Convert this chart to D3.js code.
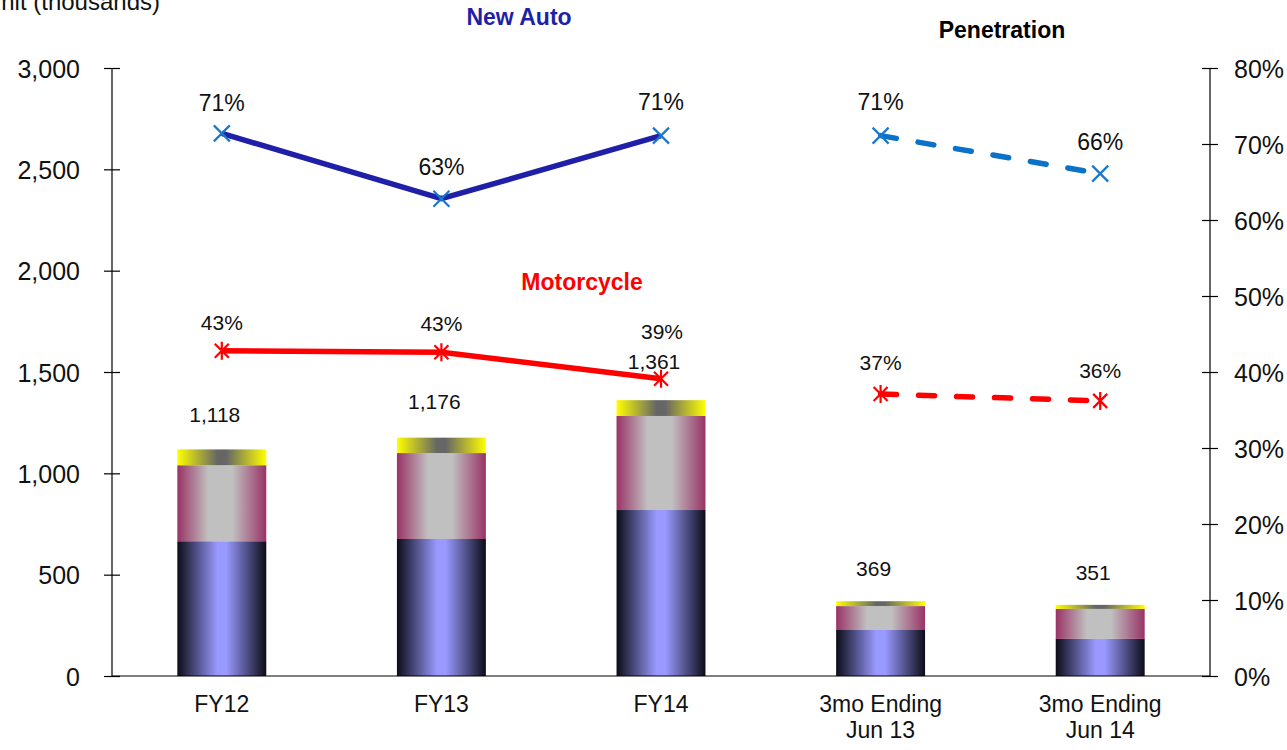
<!DOCTYPE html>
<html>
<head>
<meta charset="utf-8">
<script src="https://cdn.jsdelivr.net/npm/d3@7/dist/d3.min.js"></script>
<style>
  html, body { margin: 0; padding: 0; background: #fff; }
  svg { display: block; font-family: "Liberation Sans", Arial, sans-serif; }
</style>
</head>
<body>
<svg id="chart" width="1287" height="750"></svg>
<script>
// Categories (two-line labels are split on "\n")
const categories = ["FY12", "FY13", "FY14", "3mo Ending\nJun 13", "3mo Ending\nJun 14"];

// Stacked unit volumes (thousands)
const segBlue   = [665, 676, 819, 227, 183];
const segPink   = [375, 424, 464, 118, 148];
const segYellow = [78, 76, 78, 24, 20];
const totals    = [1118, 1176, 1361, 369, 351];

// Penetration rates (%)
const newAutoPen    = [71.4, 62.8, 71.1, 71.1, 66.1];
const motorcyclePen = [42.8, 42.6, 39.1, 37.1, 36.2];

// Axis ticks
const leftTicks  = [0, 500, 1000, 1500, 2000, 2500, 3000];
const rightTicks = [0, 10, 20, 30, 40, 50, 60, 70, 80];

const svg = d3.select("#chart");
const x0 = 112, x1 = 1210, yTop = 68, yBot = 676;

const x = d3.scaleBand().domain(categories).range([x0, x1]).padding(0);
const yL = d3.scaleLinear().domain([0, 3000]).range([yBot, yTop]);
const yR = d3.scaleLinear().domain([0, 80]).range([yBot, yTop]);
const cx = c => x(c) + x.bandwidth() / 2;
const barW = x.bandwidth() * 0.405;

// Horizontal "center" gradients for the bar segments
const defs = svg.append("defs");
function grad(id, edge, mid, a, b) {
  const g = defs.append("linearGradient").attr("id", id)
    .attr("x1", "0%").attr("x2", "100%").attr("y1", "0%").attr("y2", "0%");
  g.append("stop").attr("offset", "0%").attr("stop-color", edge);
  g.append("stop").attr("offset", a).attr("stop-color", mid);
  g.append("stop").attr("offset", b).attr("stop-color", mid);
  g.append("stop").attr("offset", "100%").attr("stop-color", edge);
}
grad("gBlue", "#0c0c18", "#9999ff", "45%", "55%");
grad("gPink", "#993366", "#c0c0c0", "35%", "62%");
grad("gYellow", "#ffff00", "#666666", "45%", "55%");

// Stacked bars
const stackData = categories.map((c, i) => ({ cat: c, blue: segBlue[i], pink: segPink[i], yellow: segYellow[i] }));
const series = d3.stack().keys(["blue", "pink", "yellow"])(stackData);
const fills = { blue: "url(#gBlue)", pink: "url(#gPink)", yellow: "url(#gYellow)" };

svg.append("g").selectAll("g").data(series).join("g")
  .attr("fill", d => fills[d.key])
  .selectAll("rect").data(d => d).join("rect")
  .attr("x", d => cx(d.data.cat) - barW / 2)
  .attr("width", barW)
  .attr("y", d => yL(d[1]))
  .attr("height", d => yL(d[0]) - yL(d[1]));

// Bar total labels
const totalOffset = [-27, -29, -31, -25, -25];
svg.append("g").selectAll("text").data(categories).join("text")
  .attr("x", c => cx(c) - 7)
  .attr("y", (c, i) => yL(totals[i]) + totalOffset[i])
  .attr("text-anchor", "middle")
  .attr("font-size", 21)
  .attr("fill", "#111")
  .text((c, i) => d3.format(",")(totals[i]));

// Axes
const axisG = svg.append("g").attr("stroke", "#000").attr("stroke-width", 1.2);
axisG.append("line").attr("x1", x0).attr("x2", x0).attr("y1", yTop).attr("y2", yBot);
axisG.append("line").attr("x1", x1).attr("x2", x1).attr("y1", yTop).attr("y2", yBot);
axisG.append("line").attr("x1", x0).attr("x2", x1).attr("y1", yBot).attr("y2", yBot);

const left = svg.append("g").attr("transform", `translate(${x0},0)`)
  .call(d3.axisLeft(yL).tickValues(leftTicks).tickSize(8).tickPadding(24).tickFormat(d3.format(",")));
left.select(".domain").remove();
left.selectAll(".tick line").attr("x1", -8).attr("x2", 8).attr("stroke", "#000").attr("stroke-width", 1.2);
left.selectAll(".tick text").attr("font-size", 25).attr("fill", "#111")
  .attr("font-family", "'Liberation Sans', Arial, sans-serif").attr("dy", "0.36em");

const right = svg.append("g").attr("transform", `translate(${x1},0)`)
  .call(d3.axisRight(yR).tickValues(rightTicks).tickSize(8).tickPadding(16).tickFormat(d => d + "%"));
right.select(".domain").remove();
right.selectAll(".tick line").attr("x1", -8).attr("x2", 8).attr("stroke", "#000").attr("stroke-width", 1.2);
right.selectAll(".tick text").attr("font-size", 25).attr("fill", "#111")
  .attr("font-family", "'Liberation Sans', Arial, sans-serif").attr("dy", "0.36em");

// Category labels
const catG = svg.append("g").selectAll("text").data(categories).join("text")
  .attr("x", c => cx(c))
  .attr("y", 712)
  .attr("text-anchor", "middle")
  .attr("font-size", 23)
  .attr("fill", "#111");
catG.selectAll("tspan").data(c => c.split("\n").map(t => ({ t, c }))).join("tspan")
  .attr("x", d => cx(d.c))
  .attr("dy", (d, i) => i === 0 ? 0 : 26)
  .text(d => d.t);

// Penetration lines: solid for fiscal years, dashed for the quarterly comparison
const line = d3.line().x(d => cx(d.cat)).y(d => yR(d.v));
const auto = categories.map((c, i) => ({ cat: c, v: newAutoPen[i] }));
const moto = categories.map((c, i) => ({ cat: c, v: motorcyclePen[i] }));

svg.append("path").datum(auto.slice(0, 3)).attr("d", line)
  .attr("fill", "none").attr("stroke", "#1f1fa8").attr("stroke-width", 5.5).attr("stroke-linejoin", "round");
svg.append("path").datum(auto.slice(3)).attr("d", line)
  .attr("fill", "none").attr("stroke", "#0a72c8").attr("stroke-width", 5.5)
  .attr("stroke-linecap", "round").attr("stroke-dasharray", "16,22");
svg.append("path").datum(moto.slice(0, 3)).attr("d", line)
  .attr("fill", "none").attr("stroke", "#ff0000").attr("stroke-width", 5.5).attr("stroke-linejoin", "round");
svg.append("path").datum(moto.slice(3)).attr("d", line)
  .attr("fill", "none").attr("stroke", "#ff0000").attr("stroke-width", 5.5)
  .attr("stroke-linecap", "round").attr("stroke-dasharray", "16,22");

// Markers
const s = 8;
svg.append("g").selectAll("path").data(auto).join("path")
  .attr("d", d => { const px = cx(d.cat), py = yR(d.v);
    return `M${px - s},${py - s}L${px + s},${py + s}M${px - s},${py + s}L${px + s},${py - s}`; })
  .attr("stroke", "#1a78cc").attr("stroke-width", 2.2).attr("fill", "none");
svg.append("g").selectAll("path").data(moto).join("path")
  .attr("d", d => { const px = cx(d.cat), py = yR(d.v), a = 7;
    return `M${px - a},${py - a}L${px + a},${py + a}M${px - a},${py + a}L${px + a},${py - a}M${px},${py - 9}L${px},${py + 9}`; })
  .attr("stroke", "#ff0000").attr("stroke-width", 2.2).attr("fill", "none");

// Penetration labels
const autoOff = [-22, -24, -26, -26, -24];
svg.append("g").selectAll("text").data(auto).join("text")
  .attr("x", d => cx(d.cat)).attr("y", (d, i) => yR(d.v) + autoOff[i])
  .attr("text-anchor", "middle").attr("font-size", 23).attr("fill", "#111")
  .text(d => Math.round(d.v) + "%");
const motoOff = [-21, -21, -40, -24, -23];
svg.append("g").selectAll("text").data(moto).join("text")
  .attr("x", (d, i) => cx(d.cat) + (i === 2 ? 1 : 0)).attr("y", (d, i) => yR(d.v) + motoOff[i])
  .attr("text-anchor", "middle").attr("font-size", 21).attr("fill", "#111")
  .text(d => Math.round(d.v) + "%");

// Titles
svg.append("text").attr("x", 160).attr("y", 10).attr("text-anchor", "end")
  .attr("font-size", 24).attr("fill", "#111").text("Unit (thousands)");
svg.append("text").attr("x", 519).attr("y", 25).attr("text-anchor", "middle")
  .attr("font-size", 23).attr("font-weight", "bold").attr("fill", "#1f1fa8").text("New Auto");
svg.append("text").attr("x", 1002).attr("y", 38).attr("text-anchor", "middle")
  .attr("font-size", 23).attr("font-weight", "bold").attr("fill", "#000").text("Penetration");
svg.append("text").attr("x", 582).attr("y", 290).attr("text-anchor", "middle")
  .attr("font-size", 23).attr("font-weight", "bold").attr("fill", "#ff0000").text("Motorcycle");
</script>
</body>
</html>
